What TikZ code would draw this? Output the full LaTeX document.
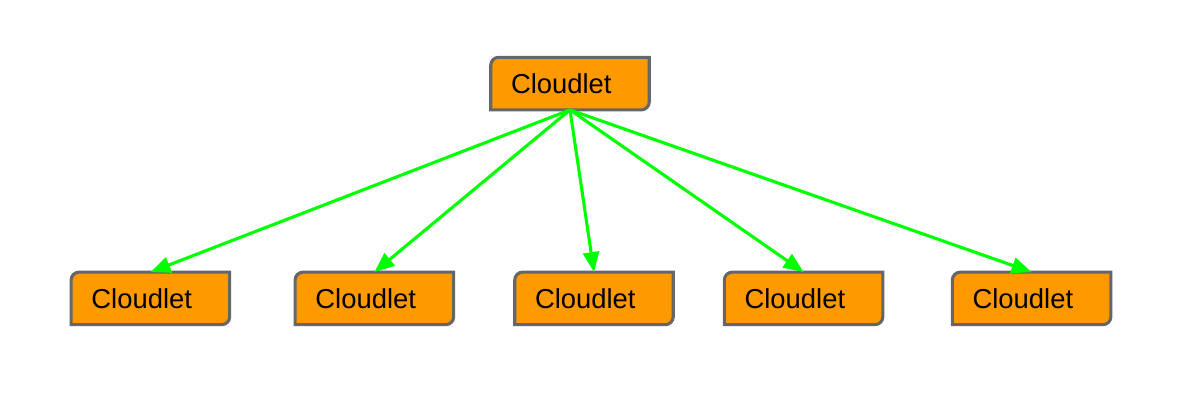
\documentclass[tikz,border=0pt]{standalone}
\usepackage{fontspec}
\setmainfont{Liberation Sans}
\usetikzlibrary{arrows.meta, positioning, backgrounds}
\definecolor{cloudOrange}{RGB}{255, 153, 0}
\definecolor{cloudEdge}{RGB}{102, 102, 102}
\definecolor{linkGreen}{RGB}{0, 255, 0}

\begin{document}
\begin{tikzpicture}[>={Triangle[length=0.5cm, width=0.4cm]},
  cloudlet/.style={minimum width=3.95cm, minimum height=1.3cm, inner xsep=0.5cm,
                   text width=2.95cm, align=left, font=\fontsize{19.5}{22}\selectfont},
  link/.style={->, draw=linkGreen, fill=linkGreen, line width=2.2pt}]

  \useasboundingbox (0,0) rectangle (29.75,10.3);

  \node[cloudlet] (top) at (14.25,8.21) {Cloudlet};
  \node[cloudlet] (c1) at (3.76,2.84)  {Cloudlet};
  \node[cloudlet] (c2) at (9.36,2.84)  {Cloudlet};
  \node[cloudlet] (c3) at (14.85,2.84) {Cloudlet};
  \node[cloudlet] (c4) at (20.09,2.84) {Cloudlet};
  \node[cloudlet] (c5) at (25.79,2.84) {Cloudlet};

  % box outlines: round top-left and bottom-right corners only
  \begin{scope}[on background layer]
    \foreach \n in {top,c1,c2,c3,c4,c5}
      \filldraw[fill=cloudOrange, draw=cloudEdge, line width=2.2pt]
        (\n.south west) [rounded corners=0.2cm] -- (\n.north west)
        [sharp corners] -- (\n.north east) [rounded corners=0.2cm]
        -- (\n.south east) [sharp corners] -- cycle;
  \end{scope}

  \foreach \n in {c1,c2,c3,c4,c5}
    \draw[link] (top.south) -- (\n.north);

\end{tikzpicture}
\end{document}
